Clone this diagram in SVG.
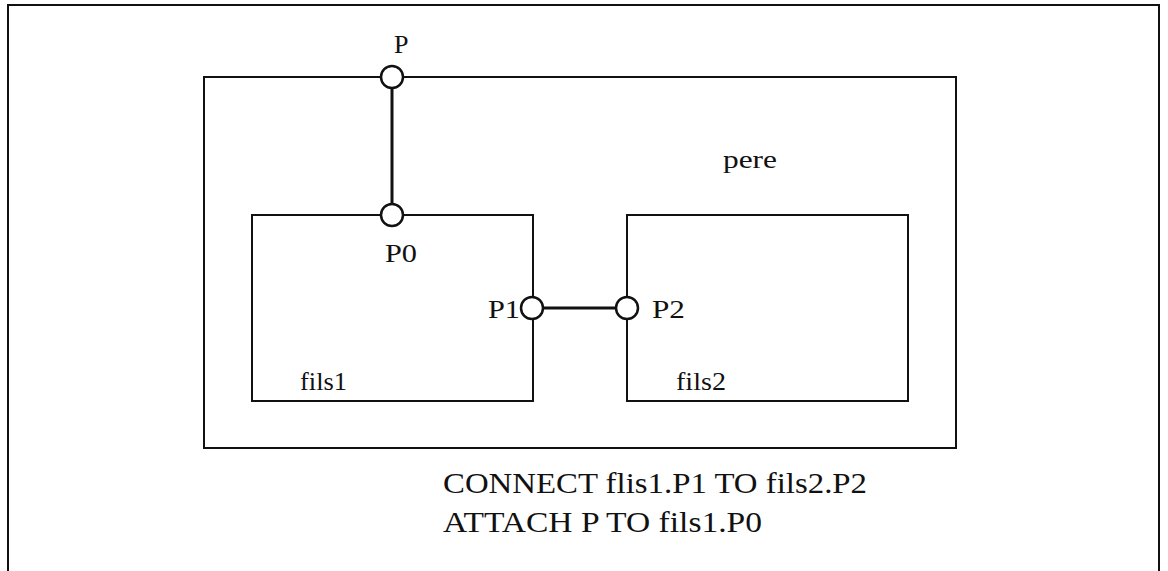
<svg xmlns="http://www.w3.org/2000/svg" width="1168" height="571" viewBox="0 0 1168 571">
<style>
.box{fill:none;stroke:#111;stroke-width:2}
.port{fill:#fff;stroke:#111;stroke-width:2.5}
.wire{stroke:#111;stroke-width:3;fill:none}
text{font-family:"Liberation Serif","Times New Roman",serif;fill:#111}
.lbl{font-size:26px}
.cmd{font-size:29px}
</style>
<rect width="1168" height="571" fill="#fff"/>
<g id="frame"><path class="box" d="M8,575 V5 H1159 V575"/></g>
<g id="pere"><rect class="box" x="204" y="77" width="752" height="371"/><text class="lbl" x="723" y="168" textLength="54" lengthAdjust="spacingAndGlyphs">pere</text></g>
<g id="fils1"><rect class="box" x="252" y="215" width="281" height="186"/><text class="lbl" x="300" y="390" textLength="47" lengthAdjust="spacingAndGlyphs">fils1</text></g>
<g id="fils2"><rect class="box" x="627" y="215" width="281" height="186"/><text class="lbl" x="676" y="390" textLength="50" lengthAdjust="spacingAndGlyphs">fils2</text></g>
<g id="connectors">
<line class="wire" x1="392" y1="88" x2="392" y2="204"/>
<line class="wire" x1="543" y1="308" x2="616" y2="308" stroke-width="2.5"/>
</g>
<g id="portP"><circle class="port" cx="392" cy="77" r="11"/><text class="lbl" x="394" y="53" font-size="28">P</text></g>
<g id="portP0"><circle class="port" cx="392" cy="215" r="11"/><text class="lbl" x="385" y="262" textLength="32" lengthAdjust="spacingAndGlyphs">P0</text></g>
<g id="portP1"><circle class="port" cx="532" cy="308" r="11"/><text class="lbl" x="488" y="318" textLength="32" lengthAdjust="spacingAndGlyphs">P1</text></g>
<g id="portP2"><circle class="port" cx="627" cy="308" r="11"/><text class="lbl" x="652" y="318" textLength="33" lengthAdjust="spacingAndGlyphs">P2</text></g>
<g id="commands">
<text class="cmd" x="443" y="493" textLength="424" lengthAdjust="spacingAndGlyphs">CONNECT flis1.P1 TO fils2.P2</text>
<text class="cmd" x="443" y="532" textLength="319" lengthAdjust="spacingAndGlyphs">ATTACH P TO fils1.P0</text>
</g>
</svg>
